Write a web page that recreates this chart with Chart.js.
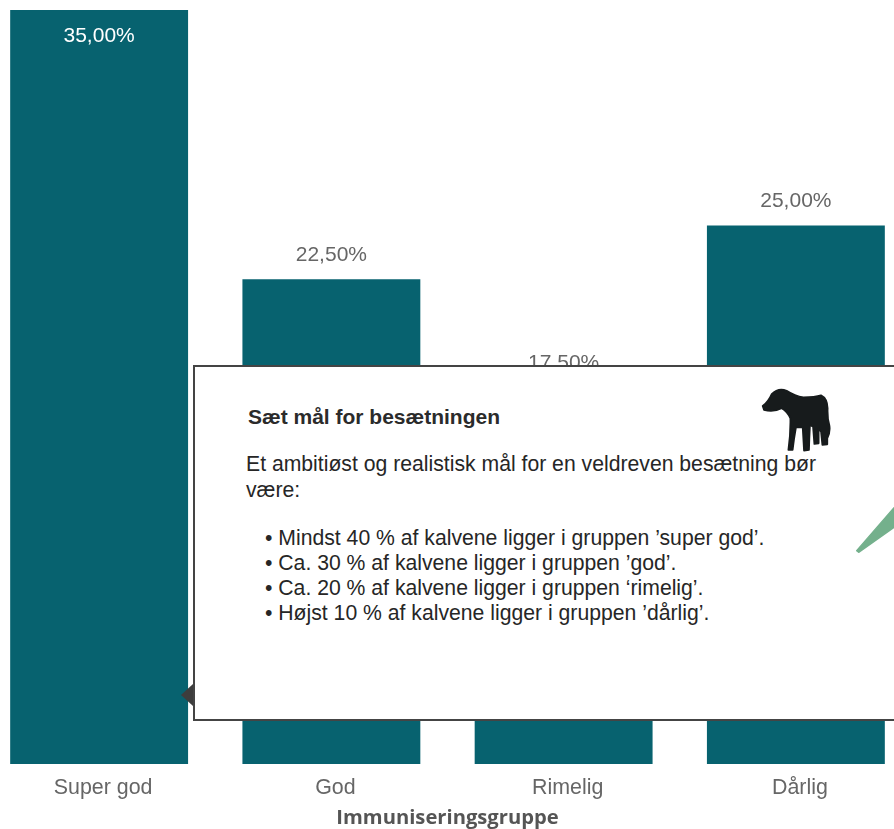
<!DOCTYPE html>
<html lang="da">
<head>
<meta charset="utf-8">
<title>Immuniseringsgruppe</title>
<script src="https://cdn.jsdelivr.net/npm/chart.js@4/dist/chart.umd.min.js"></script>
<style>
html, body { margin: 0; padding: 0; background: #fff; overflow: hidden; width: 894px; height: 829px; }
#wrap { position: absolute; left: -17px; top: 0; width: 929px; height: 829px; }
#popup { position: absolute; left: 193px; top: 365px; width: 720px; height: 352px; background: #fff; border: 2px solid #444; font-family: "Liberation Sans", Arial, sans-serif; color: #262626; box-sizing: content-box; }
#popup h4 { position: absolute; left: 53px; top: 37px; margin: 0; font-size: 21px; line-height: 25px; font-weight: bold; color: #2b2b2b; white-space: nowrap; }
#popup p { position: absolute; left: 51px; top: 84px; width: 590px; margin: 0; font-size: 21.2px; line-height: 26px; }
#popup ul { position: absolute; left: 70px; top: 158px; margin: 0; padding: 0; list-style: none; font-size: 21.2px; line-height: 25px; white-space: nowrap; }
#arrow { position: absolute; left: 181px; top: 684px; width: 0; height: 0; border-top: 11px solid transparent; border-bottom: 11px solid transparent; border-right: 12px solid #3d3d3d; }
svg { position: absolute; }
</style>
</head>
<body>
<div id="wrap"><canvas id="barChart" width="929" height="829"></canvas></div>
<div id="arrow"></div>
<div id="popup">
	<h4>Sæt mål for besætningen</h4>
	<p>Et ambitiøst og realistisk mål for en veldreven besætning bør være:</p>
	<ul>
		<li>• Mindst 40 % af kalvene ligger i gruppen ’super god’.</li>
		<li>• Ca. 30 % af kalvene ligger i gruppen ’god’.</li>
		<li>• Ca. 20 % af kalvene ligger i gruppen ‘rimelig’.</li>
		<li>• Højst 10 % af kalvene ligger i gruppen ’dårlig’.</li>
	</ul>
</div>
<svg style="left:740px;top:370px" width="154" height="200" viewBox="0 0 462 600">
	<path fill="#171b1c" stroke="#171b1c" stroke-width="5" stroke-linejoin="round" style="filter:blur(0.6px)" d="M68 108 Q85 95 95 72 Q115 52 140 62 Q165 78 190 82 Q225 82 243 76 Q262 85 263 115 Q262 145 268 165 Q272 185 262 205 L262 223 L247 225 L243 185 L236 175 L236 220 L223 222 L219 170 L210 165 Q208 205 207 240 L192 242 L188 172 L168 172 Q162 205 158 240 L145 240 Q152 190 151 145 Q142 125 125 115 Q100 128 72 120 Z"/>
	<path fill="#74b08c" stroke="#74b08c" stroke-width="4" stroke-linejoin="round" d="M462 413 L462 472 L356 547 L350 542 Z"/>
</svg>
<script>
var categories = ['Super god', 'God', 'Rimelig', 'Dårlig'];
var values = [35, 22.5, 17.5, 25];
var valueLabels = ['35,00%', '22,50%', '17,50%', '25,00%'];
var xTitle = 'Immuniseringsgruppe';

// labels on the bars, the tallest one sits inside in white
var barLabels = {
	id : 'barLabels',
	afterDatasetsDraw : function(chart) {
		var ctx = chart.ctx;
		var bars = chart.getDatasetMeta(0).data;
		ctx.save();
		ctx.font = '21px "Liberation Sans", Arial, sans-serif';
		ctx.textAlign = 'center';
		ctx.textBaseline = 'middle';
		for (var i = 0; i < bars.length; i++) {
			var inside = values[i] == 35;
			ctx.fillStyle = inside ? '#ffffff' : '#666666';
			ctx.fillText(valueLabels[i], bars[i].x, bars[i].y + (inside ? 26 : -24));
		}
		ctx.restore();
	}
};

new Chart(document.getElementById('barChart'), {
	type : 'bar',
	data : {
		labels : categories,
		datasets : [ {
			data : values,
			backgroundColor : '#07626f',
			categoryPercentage : 1,
			barPercentage : 0.766
		} ]
	},
	plugins : [ barLabels ],
	options : {
		responsive : false,
		animation : false,
		layout : { padding : { top : 10, left : 0, right : 0, bottom : 1 } },
		plugins : { legend : { display : false }, tooltip : { enabled : false } },
		scales : {
			x : {
				grid : { display : false },
				border : { display : false },
				ticks : { color : '#666666', padding : 3, labelOffset : 4, font : { family : '"Liberation Sans", Arial, sans-serif', size : 21.4 } },
				title : {
					display : true,
					text : xTitle,
					color : '#555555',
					padding : { top : 4, bottom : 0 },
					font : { family : '"Open Sans", sans-serif', size : 20.2, weight : 'bold', lineHeight : 1 }
				}
			},
			y : { display : false, min : 0, max : 35 }
		}
	}
});
</script>
</body>
</html>
